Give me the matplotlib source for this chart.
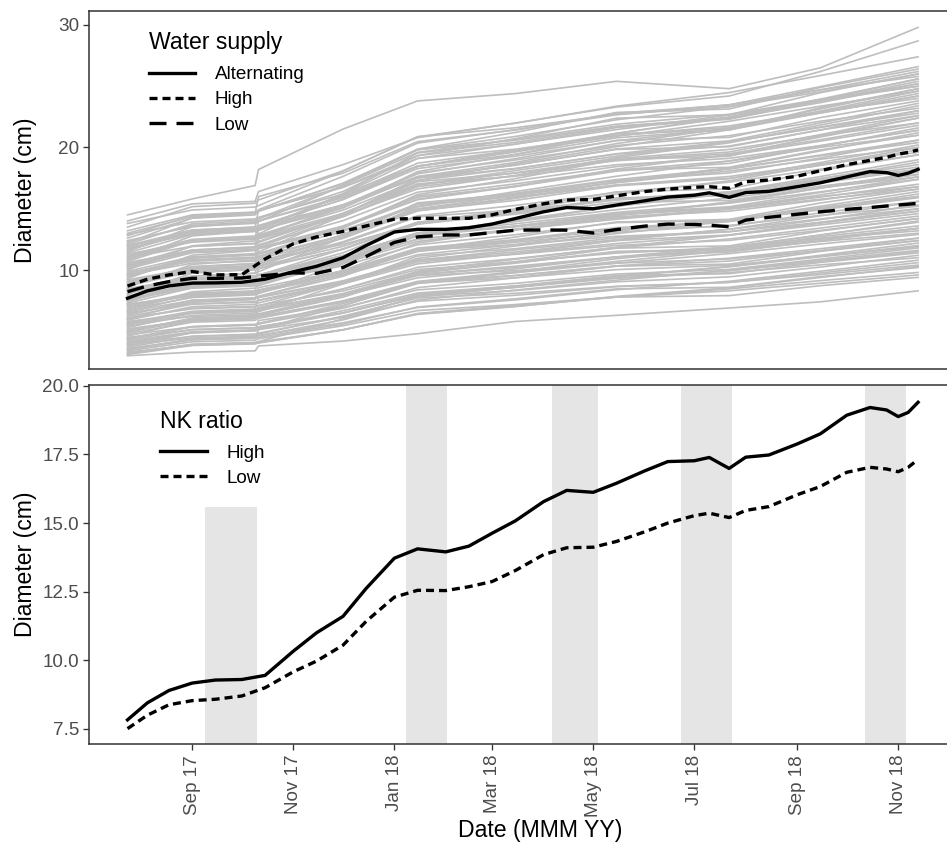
import matplotlib
matplotlib.use("Agg")
import matplotlib.pyplot as plt
from matplotlib.lines import Line2D
import pandas as pd

plt.rcParams['font.family'] = ['Liberation Sans', 'DejaVu Sans']

# ---- group means (smoothed) ----
mean_dates = pd.to_datetime([
    "2017-07-24", "2017-08-05", "2017-08-18", "2017-09-01", "2017-09-15", "2017-10-01",
    "2017-10-15", "2017-11-01", "2017-11-15", "2017-12-01", "2017-12-15", "2018-01-01",
    "2018-01-15", "2018-02-01", "2018-02-15", "2018-03-01", "2018-03-15", "2018-04-01",
    "2018-04-15", "2018-05-01", "2018-05-15", "2018-06-01", "2018-06-15", "2018-07-01",
    "2018-07-10", "2018-07-22", "2018-08-01", "2018-08-15", "2018-09-01", "2018-09-15",
    "2018-10-01", "2018-10-15", "2018-10-25", "2018-11-01", "2018-11-07", "2018-11-13"])

water_alternating = [7.69, 8.30, 8.70, 8.93, 8.95, 9.00, 9.25, 9.85, 10.30, 11.00, 12.00, 13.10,
                     13.32, 13.32, 13.45, 13.75, 14.20, 14.75, 15.10, 15.00, 15.30, 15.65, 15.95, 16.10,
                     16.30, 15.93, 16.32, 16.42, 16.80, 17.12, 17.60, 18.03, 17.95, 17.72, 17.90, 18.22]
water_high = [8.69, 9.25, 9.60, 9.88, 9.60, 9.62, 10.90, 12.14, 12.70, 13.15, 13.60, 14.15,
              14.22, 14.22, 14.22, 14.50, 14.95, 15.40, 15.71, 15.75, 16.05, 16.40, 16.60, 16.75,
              16.80, 16.67, 17.20, 17.35, 17.65, 18.10, 18.60, 18.95, 19.20, 19.45, 19.60, 19.80]
water_low = [8.23, 8.70, 9.05, 9.32, 9.32, 9.35, 9.55, 9.77, 9.73, 10.20, 11.10, 12.25,
             12.70, 12.86, 12.86, 13.05, 13.25, 13.27, 13.25, 13.02, 13.30, 13.58, 13.75, 13.72,
             13.65, 13.54, 14.07, 14.30, 14.55, 14.75, 14.95, 15.10, 15.22, 15.30, 15.37, 15.44]

nk_high = [7.83, 8.45, 8.90, 9.17, 9.28, 9.30, 9.45, 10.33, 11.00, 11.60, 12.62, 13.72,
           14.06, 13.95, 14.16, 14.63, 15.08, 15.78, 16.19, 16.12, 16.45, 16.90, 17.24, 17.27,
           17.39, 16.99, 17.40, 17.48, 17.88, 18.25, 18.93, 19.21, 19.12, 18.88, 19.03, 19.40]
nk_low = [7.51, 8.00, 8.38, 8.53, 8.58, 8.70, 9.00, 9.58, 9.97, 10.55, 11.42, 12.30,
          12.55, 12.54, 12.68, 12.87, 13.27, 13.85, 14.10, 14.12, 14.33, 14.68, 15.00, 15.27,
          15.36, 15.20, 15.46, 15.60, 16.03, 16.33, 16.85, 17.03, 16.97, 16.87, 17.03, 17.32]

# ---- individual trees ----
tree_dates = pd.to_datetime([
    "2017-07-24", "2017-09-01", "2017-10-09", "2017-10-11", "2017-12-01", "2018-01-15",
    "2018-03-15", "2018-05-15", "2018-07-22", "2018-09-15", "2018-11-13"])

tree_diameters = [
    [3.0, 3.3, 3.4, 3.8, 4.2, 4.8, 5.8, 6.3, 6.9, 7.4, 8.3],
    [3.3, 3.86, 4.0, 4.07, 5.12, 6.38, 7.01, 7.85, 8.55, 9.39, 10.3],
    [3.4, 4.14, 4.27, 4.39, 5.45, 6.69, 7.18, 7.8, 8.3, 8.92, 9.6],
    [3.6, 4.3, 4.44, 5.14, 6.12, 7.45, 7.94, 8.64, 8.99, 9.76, 10.6],
    [3.8, 4.88, 5.1, 5.24, 6.68, 8.12, 8.7, 9.34, 9.78, 10.42, 11.0],
    [3.9, 4.45, 4.59, 4.66, 5.69, 6.94, 7.56, 8.39, 9.08, 9.9, 10.8],
    [4.0, 4.9, 5.05, 5.2, 6.48, 7.98, 8.58, 9.33, 9.93, 10.68, 11.5],
    [4.2, 4.96, 5.11, 5.87, 6.94, 8.38, 8.91, 9.67, 10.05, 10.89, 11.8],
    [4.5, 5.12, 5.27, 5.35, 6.5, 7.89, 8.58, 9.51, 10.28, 11.2, 12.2],
    [4.6, 5.86, 6.11, 6.28, 7.96, 9.64, 10.31, 11.07, 11.57, 12.33, 13.0],
    [4.8, 5.74, 5.89, 6.05, 7.37, 8.93, 9.56, 10.34, 10.96, 11.74, 12.6],
    [5.0, 5.84, 6.01, 6.85, 8.02, 9.62, 10.21, 11.05, 11.47, 12.39, 13.4],
    [5.2, 5.9, 6.08, 6.17, 7.49, 9.07, 9.86, 10.92, 11.8, 12.86, 14.0],
    [5.3, 6.49, 6.72, 6.88, 8.46, 10.04, 10.67, 11.38, 11.86, 12.57, 13.2],
    [5.5, 6.57, 6.75, 6.92, 8.44, 10.22, 10.93, 11.82, 12.53, 13.42, 14.4],
    [5.7, 6.63, 6.82, 7.75, 9.05, 10.82, 11.47, 12.4, 12.86, 13.88, 15.0],
    [5.8, 6.45, 6.61, 6.69, 7.91, 9.36, 10.09, 11.07, 11.88, 12.85, 13.9],
    [6.0, 7.38, 7.66, 7.84, 9.68, 11.52, 12.26, 13.08, 13.64, 14.46, 15.2],
    [6.2, 7.21, 7.38, 7.54, 8.97, 10.65, 11.32, 12.16, 12.84, 13.68, 14.6],
    [6.4, 7.38, 7.58, 8.56, 9.93, 11.79, 12.48, 13.46, 13.95, 15.02, 16.2],
    [6.5, 7.23, 7.41, 7.5, 8.87, 10.5, 11.32, 12.42, 13.33, 14.42, 15.6],
    [6.7, 8.22, 8.52, 8.72, 10.74, 12.76, 13.57, 14.48, 15.08, 15.99, 16.8],
    [6.9, 7.98, 8.16, 8.34, 9.87, 11.67, 12.39, 13.29, 14.01, 14.91, 15.9],
    [7.0, 8.06, 8.27, 9.33, 10.82, 12.83, 13.57, 14.63, 15.16, 16.33, 17.6],
    [7.2, 7.94, 8.12, 8.21, 9.59, 11.25, 12.08, 13.18, 14.1, 15.2, 16.4],
    [7.4, 9.02, 9.34, 9.56, 11.72, 13.88, 14.74, 15.72, 16.36, 17.34, 18.2],
    [7.5, 8.64, 8.83, 9.02, 10.64, 12.54, 13.3, 14.25, 15.01, 15.96, 17.0],
    [7.6, 8.74, 8.97, 10.11, 11.7, 13.87, 14.67, 15.81, 16.38, 17.63, 19.0],
    [7.9, 8.71, 8.91, 9.01, 10.53, 12.34, 13.25, 14.47, 15.48, 16.69, 18.0],
    [8.0, 9.74, 10.09, 10.32, 12.64, 14.96, 15.89, 16.93, 17.63, 18.67, 19.6],
    [8.1, 9.22, 9.4, 9.59, 11.17, 13.03, 13.77, 14.7, 15.45, 16.38, 17.4],
    [8.3, 9.49, 9.73, 10.92, 12.58, 14.85, 15.68, 16.87, 17.46, 18.77, 20.2],
    [8.5, 9.32, 9.53, 9.63, 11.18, 13.03, 13.96, 15.2, 16.23, 17.46, 18.8],
    [8.6, 10.46, 10.83, 11.08, 13.56, 16.04, 17.03, 18.15, 18.89, 20.01, 21.0],
    [8.8, 10.07, 10.28, 10.5, 12.3, 14.42, 15.27, 16.33, 17.17, 18.23, 19.4],
    [9.0, 10.26, 10.51, 11.77, 13.54, 15.93, 16.81, 18.07, 18.7, 20.09, 21.6],
    [9.1, 9.97, 10.19, 10.3, 11.93, 13.9, 14.88, 16.19, 17.28, 18.58, 20.0],
    [9.3, 11.21, 11.59, 11.84, 14.38, 16.92, 17.94, 19.08, 19.84, 20.98, 22.0],
    [9.5, 10.83, 11.05, 11.28, 13.16, 15.38, 16.27, 17.38, 18.27, 19.38, 20.6],
    [9.7, 10.99, 11.25, 12.54, 14.34, 16.8, 17.7, 18.99, 19.63, 21.05, 22.6],
    [9.8, 10.71, 10.94, 11.05, 12.76, 14.82, 15.84, 17.21, 18.35, 19.72, 21.2],
    [10.0, 11.98, 12.38, 12.64, 15.28, 17.92, 18.98, 20.16, 20.96, 22.14, 23.2],
    [10.2, 11.59, 11.82, 12.06, 14.03, 16.35, 17.28, 18.44, 19.36, 20.52, 21.8],
    [10.3, 11.63, 11.9, 13.23, 15.09, 17.62, 18.55, 19.88, 20.54, 22.0, 23.6],
    [10.5, 11.45, 11.69, 11.81, 13.59, 15.74, 16.81, 18.24, 19.43, 20.85, 22.4],
    [10.8, 12.78, 13.18, 13.44, 16.08, 18.72, 19.78, 20.96, 21.76, 22.94, 24.0],
    [10.9, 12.35, 12.59, 12.84, 14.89, 17.31, 18.28, 19.49, 20.46, 21.67, 23.0],
    [11.0, 12.36, 12.63, 13.99, 15.9, 18.48, 19.43, 20.79, 21.47, 22.97, 24.6],
    [11.3, 12.27, 12.51, 12.63, 14.45, 16.62, 17.71, 19.17, 20.38, 21.83, 23.4],
    [11.5, 13.53, 13.93, 14.2, 16.9, 19.6, 20.68, 21.9, 22.71, 23.92, 25.0],
    [11.6, 13.11, 13.36, 13.62, 15.76, 18.28, 19.29, 20.55, 21.55, 22.81, 24.2],
    [11.9, 13.25, 13.52, 14.87, 16.76, 19.33, 20.27, 21.62, 22.3, 23.78, 25.4],
    [12.0, 13.02, 13.28, 13.41, 15.33, 17.63, 18.78, 20.32, 21.6, 23.14, 24.8],
    [12.2, 14.24, 14.65, 14.92, 17.64, 20.36, 21.45, 22.67, 23.49, 24.71, 25.8],
    [12.6, 14.23, 14.5, 14.78, 17.09, 19.81, 20.9, 22.26, 23.34, 24.7, 26.2],
    [12.9, 13.92, 14.17, 14.3, 16.2, 18.49, 19.63, 21.16, 22.43, 23.95, 25.6],
    [13.0, 14.36, 14.63, 15.99, 17.9, 20.48, 21.43, 22.79, 23.47, 24.97, 26.6],
    [13.5, 15.17, 15.45, 15.72, 18.09, 20.87, 21.98, 23.37, 24.48, 25.87, 27.4],
    [14.0, 15.4, 15.6, 16.4, 18.6, 20.8, 22.0, 23.3, 24.2, 26.2, 28.7],
    [14.5, 15.8, 16.9, 18.2, 21.5, 23.8, 24.4, 25.4, 24.8, 26.5, 29.8],
    [3.1, 3.84, 3.97, 4.04, 5.11, 6.45, 7.12, 7.79, 8.46, 9.13, 9.8],
    [3.2, 3.92, 4.08, 4.16, 6.0, 7.84, 8.32, 9.04, 9.44, 10.24, 11.2],
    [3.5, 4.3, 4.44, 4.51, 5.58, 6.98, 7.65, 8.46, 8.59, 9.46, 10.2],
    [3.7, 4.6, 4.77, 4.85, 6.16, 7.8, 8.62, 9.44, 10.26, 11.08, 11.9],
    [4.1, 4.87, 5.04, 5.12, 7.08, 9.03, 9.54, 10.31, 10.73, 11.58, 12.6],
    [4.3, 5.15, 5.29, 5.37, 6.5, 8.0, 8.7, 9.55, 9.7, 10.62, 11.4],
    [4.4, 5.39, 5.57, 5.66, 7.1, 8.9, 9.8, 10.7, 11.6, 12.5, 13.4],
    [4.7, 5.36, 5.5, 5.58, 7.26, 8.93, 9.37, 10.03, 10.39, 11.12, 12.0],
    [4.9, 6.02, 6.2, 6.3, 7.78, 9.74, 10.67, 11.78, 11.97, 13.18, 14.2],
    [5.1, 5.96, 6.11, 6.19, 7.44, 9.0, 9.78, 10.56, 11.34, 12.12, 12.9],
    [5.4, 6.29, 6.49, 6.59, 8.87, 11.14, 11.74, 12.63, 13.12, 14.11, 15.3],
    [5.6, 6.56, 6.72, 6.8, 8.08, 9.76, 10.56, 11.52, 11.68, 12.72, 13.6],
    [5.9, 7.01, 7.21, 7.31, 8.93, 10.95, 11.96, 12.97, 13.98, 14.99, 16.0],
    [6.1, 6.83, 6.99, 7.07, 8.94, 10.8, 11.28, 12.01, 12.42, 13.23, 14.2],
    [6.3, 7.54, 7.74, 7.85, 9.49, 11.66, 12.69, 13.92, 14.13, 15.47, 16.6],
    [6.6, 7.52, 7.69, 7.78, 9.12, 10.8, 11.64, 12.48, 13.32, 14.16, 15.0],
    [6.8, 7.75, 7.97, 8.07, 10.51, 12.95, 13.58, 14.54, 15.07, 16.13, 17.4],
    [7.1, 8.12, 8.29, 8.38, 9.74, 11.52, 12.37, 13.39, 13.56, 14.67, 15.6],
    [7.3, 8.54, 8.77, 8.88, 10.69, 12.95, 14.08, 15.21, 16.34, 17.47, 18.6],
    [7.7, 8.52, 8.7, 8.79, 10.89, 12.98, 13.52, 14.34, 14.8, 15.71, 16.8],
    [7.8, 9.19, 9.42, 9.54, 11.4, 13.83, 14.99, 16.38, 16.62, 18.12, 19.4],
    [8.2, 9.26, 9.45, 9.54, 11.08, 13.0, 13.96, 14.92, 15.88, 16.84, 17.8],
    [8.4, 9.5, 9.74, 9.86, 12.67, 15.48, 16.21, 17.31, 17.92, 19.14, 20.6],
    [8.7, 9.86, 10.06, 10.16, 11.71, 13.74, 14.71, 15.88, 16.07, 17.33, 18.4],
    [8.9, 10.28, 10.53, 10.65, 12.65, 15.15, 16.4, 17.65, 18.9, 20.15, 21.4],
    [9.2, 10.15, 10.37, 10.47, 12.91, 15.35, 15.98, 16.94, 17.47, 18.53, 19.8],
    [9.4, 10.96, 11.22, 11.35, 13.43, 16.16, 17.46, 19.02, 19.28, 20.97, 22.4],
    [9.6, 10.79, 11.0, 11.11, 12.84, 15.0, 16.08, 17.16, 18.24, 19.32, 20.4],
    [9.9, 11.08, 11.34, 11.47, 14.49, 17.5, 18.28, 19.46, 20.12, 21.43, 23.0],
    [10.1, 11.41, 11.63, 11.74, 13.48, 15.77, 16.86, 18.17, 18.38, 19.8, 21.0],
    [10.4, 11.92, 12.19, 12.33, 14.54, 17.3, 18.68, 20.06, 21.44, 22.82, 24.2],
    [10.6, 11.63, 11.85, 11.97, 14.59, 17.21, 17.9, 18.92, 19.49, 20.63, 22.0],
    [10.7, 12.39, 12.67, 12.82, 15.07, 18.03, 19.44, 21.13, 21.42, 23.25, 24.8],
    [11.1, 12.39, 12.62, 12.74, 14.61, 16.95, 18.12, 19.29, 20.46, 21.63, 22.8],
    [11.2, 12.5, 12.78, 12.93, 16.24, 19.55, 20.42, 21.71, 22.43, 23.87, 25.6],
    [11.4, 12.89, 13.14, 13.26, 15.24, 17.85, 19.09, 20.58, 20.82, 22.44, 23.8],
    [11.7, 13.19, 13.46, 13.59, 15.75, 18.45, 19.8, 21.15, 22.5, 23.85, 25.2],
    [11.8, 12.93, 13.19, 13.31, 16.21, 19.11, 19.86, 21.0, 21.63, 22.89, 24.4],
    [12.1, 13.77, 14.05, 14.19, 16.41, 19.33, 20.72, 22.39, 22.66, 24.47, 26.0],
    [12.3, 13.65, 13.9, 14.02, 15.99, 18.45, 19.68, 20.91, 22.14, 23.37, 24.6],
    [12.4, 13.55, 13.81, 13.94, 16.88, 19.82, 20.59, 21.74, 22.38, 23.66, 25.2],
    [12.8, 14.43, 14.7, 14.84, 17.02, 19.87, 21.23, 22.86, 23.14, 24.9, 26.4],
    [13.2, 14.5, 14.73, 14.85, 16.74, 19.1, 20.28, 21.46, 22.64, 23.82, 25.0],
    [13.8, 14.9, 15.14, 15.26, 18.07, 20.88, 21.61, 22.71, 23.32, 24.54, 26.0],
    [3.2, 3.94, 4.07, 4.13, 5.12, 6.42, 7.04, 7.79, 7.91, 8.72, 9.4],
    [3.5, 4.39, 4.55, 4.63, 5.93, 7.55, 8.36, 9.17, 9.98, 10.79, 11.6],
    [4.0, 4.58, 4.7, 4.77, 6.24, 7.71, 8.1, 8.67, 8.99, 9.63, 10.4],
    [4.4, 5.36, 5.52, 5.6, 6.88, 8.56, 9.36, 10.32, 10.48, 11.52, 12.4],
    [5.0, 6.08, 6.27, 6.37, 7.94, 9.9, 10.88, 11.86, 12.84, 13.82, 14.8],
    [5.6, 6.21, 6.35, 6.42, 7.98, 9.54, 9.95, 10.56, 10.9, 11.58, 12.4],
    [6.0, 6.89, 7.04, 7.11, 8.29, 9.85, 10.59, 11.48, 11.62, 12.59, 13.4],
    [6.6, 7.83, 8.06, 8.17, 9.96, 12.2, 13.32, 14.44, 15.56, 16.68, 17.8],
    [7.2, 7.88, 8.04, 8.11, 9.86, 11.61, 12.06, 12.75, 13.13, 13.89, 14.8],
    [7.8, 8.78, 8.95, 9.03, 10.34, 12.06, 12.88, 13.87, 14.03, 15.1, 16.0],
    [8.4, 9.3, 9.47, 9.55, 10.86, 12.5, 13.32, 14.14, 14.96, 15.78, 16.6],
    [9.0, 9.83, 10.01, 10.1, 12.22, 14.34, 14.89, 15.72, 16.18, 17.1, 18.2],
    [9.6, 10.56, 10.72, 10.8, 12.08, 13.76, 14.56, 15.52, 15.68, 16.72, 17.6],
    [10.4, 11.46, 11.65, 11.74, 13.28, 15.2, 16.16, 17.12, 18.08, 19.04, 20.0],
    [11.0, 11.94, 12.14, 12.25, 14.64, 17.03, 17.66, 18.59, 19.11, 20.15, 21.4],
    [12.0, 13.27, 13.48, 13.59, 15.29, 17.51, 18.57, 19.84, 20.06, 21.43, 22.6],
]

# ---- shaded periods in the lower panel ----
shade_starts = pd.to_datetime(["2017-09-09", "2018-01-08", "2018-04-06", "2018-06-23", "2018-10-12"])
shade_ends = pd.to_datetime(["2017-10-10", "2018-02-02", "2018-05-04", "2018-07-24", "2018-11-06"])
shade_tops = [15.6, None, None, None, None]

tick_dates = pd.to_datetime(["2017-09-01", "2017-11-01", "2018-01-01", "2018-03-01",
                             "2018-05-01", "2018-07-01", "2018-09-01", "2018-11-01"])
tick_labels = ["Sep 17", "Nov 17", "Jan 18", "Mar 18", "May 18", "Jul 18", "Sep 18", "Nov 18"]

x_limits = (pd.Timestamp("2017-06-30 18:00"), pd.Timestamp("2018-12-27 00:00"))

# ---- styling ----
FRAME = "#333333"
TICKTXT = "#4D4D4D"
GREY_LINE = "#BEBEBE"
SHADE = "#E5E5E5"
LW = 2.4
DOTTED = (0, (2.4, 1.5))
LONGDASH = (0, (5.1, 3.0))
TICK_FS = 13.6
TITLE_FS = 16.6

fig = plt.figure(figsize=(9.47, 8.44), dpi=100)
W, H = 947, 844
ax_top = fig.add_axes([89 / W, (H - 369) / H, 902 / W, 358 / H])
ax_bot = fig.add_axes([89 / W, (H - 744) / H, 902 / W, 359 / H])


def style_axes(ax):
    for sp in ax.spines.values():
        sp.set_color(FRAME)
        sp.set_linewidth(1.1)
    ax.tick_params(axis="both", length=4.3, width=0.95, color=FRAME,
                   labelsize=TICK_FS, labelcolor=TICKTXT, pad=2.9)
    ax.set_xlim(*x_limits)
    ax.set_xticks(tick_dates)


def add_legend(ax, handles, labels, title, anchor):
    leg = ax.legend(handles, labels, title=title, loc="upper left", bbox_to_anchor=anchor,
                    frameon=False, fontsize=TICK_FS, title_fontsize=TITLE_FS,
                    handlelength=2.45, handletextpad=1.05, labelspacing=0.42,
                    borderpad=0, borderaxespad=0, alignment="left")
    leg._legend_box.sep = 8.4  # extra room under the legend title
    return leg


# upper panel: every tree plus water-supply means
for row in tree_diameters:
    ax_top.plot(tree_dates, row, color=GREY_LINE, lw=1.2, zorder=1,
                solid_joinstyle="round")
ax_top.plot(mean_dates, water_alternating, color="black", lw=LW, zorder=3,
            solid_joinstyle="round")
ax_top.plot(mean_dates, water_high, color="black", lw=LW, ls=DOTTED, zorder=3)
ax_top.plot(mean_dates, water_low, color="black", lw=LW, ls=LONGDASH, zorder=3)
style_axes(ax_top)
ax_top.set_ylim(1.92, 31.14)
ax_top.set_yticks([10, 20, 30])
ax_top.tick_params(axis="x", length=0, labelbottom=False)
ax_top.set_ylabel("Diameter (cm)", fontsize=TITLE_FS, color="black")
ax_top.yaxis.set_label_coords(-0.058, 0.5)

top_handles = [Line2D([], [], color="black", lw=LW),
               Line2D([], [], color="black", lw=LW, ls=DOTTED),
               Line2D([], [], color="black", lw=LW, ls=LONGDASH)]
add_legend(ax_top, top_handles, ["Alternating", "High", "Low"], "Water supply",
           (0.066, 0.943))

# lower panel: NK ratio means over shaded periods
y_lo, y_hi = 6.95, 20.03
for s, e, top in zip(shade_starts, shade_ends, shade_tops):
    if top is None:
        ax_bot.axvspan(s, e, color=SHADE, lw=0, zorder=0)
    else:
        ax_bot.fill_between([s, e], y_lo, top, color=SHADE, lw=0, zorder=0)
ax_bot.plot(mean_dates, nk_high, color="black", lw=LW, zorder=3, solid_joinstyle="round")
ax_bot.plot(mean_dates, nk_low, color="black", lw=LW, ls=DOTTED, zorder=3)
style_axes(ax_bot)
ax_bot.set_ylim(y_lo, y_hi)
ax_bot.set_yticks([7.5, 10.0, 12.5, 15.0, 17.5, 20.0])
ax_bot.set_yticklabels(["7.5", "10.0", "12.5", "15.0", "17.5", "20.0"])
ax_bot.set_xticklabels(tick_labels, rotation=90)
ax_bot.tick_params(axis="x", pad=3.5)
ax_bot.set_ylabel("Diameter (cm)", fontsize=TITLE_FS, color="black")
ax_bot.yaxis.set_label_coords(-0.058, 0.5)
ax_bot.set_xlabel("Date (MMM YY)", fontsize=TITLE_FS, color="black", labelpad=2)

bot_handles = [Line2D([], [], color="black", lw=LW),
               Line2D([], [], color="black", lw=LW, ls=DOTTED)]
add_legend(ax_bot, bot_handles, ["High", "Low"], "NK ratio", (0.079, 0.931))

fig.savefig("out.png", dpi=100)
